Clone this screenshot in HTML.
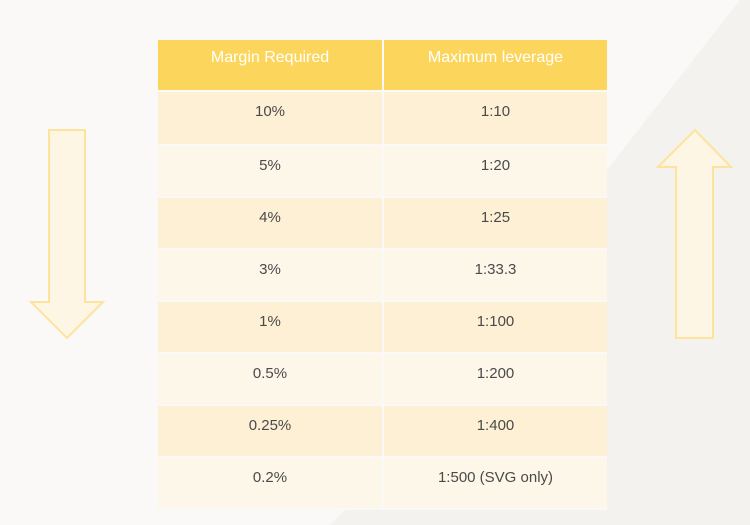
<!DOCTYPE html>
<html><head><style>
body{margin:0;width:750px;height:525px;overflow:hidden;background:#faf9f7;font-family:"Liberation Sans",sans-serif;position:relative}
.row{position:absolute;left:158px;width:449px;height:50px;display:flex;gap:2px}
.row div{height:100%;text-align:center;color:#4a4a4a;font-size:15px;padding-top:11px;box-sizing:border-box}
.c1{width:224px}.c2{width:223px}
.h div{background:#fcd65c;color:#fff;font-size:16px;padding-top:9px}
.o div{background:#fef0d5}.e div{background:#fdf7ea}
</style></head><body>
<svg width="750" height="525" style="position:absolute;left:0;top:0">
<polygon points="740,0 750,0 750,525 330,525 345,510 607,510 607,170" fill="#f4f2ee"/>
<polygon points="49,130 85,130 85,302 103,302 67,338 31,302 49,302" fill="#fdf6e4" stroke="#fde39c" stroke-width="2"/>
<polygon points="695,130 731,167 713,167 713,338 676,338 676,167 658,167" fill="#fdf6e4" stroke="#fde39c" stroke-width="2"/>
</svg>
<div class="row h" style="top:40px"><div class="c1">Margin Required</div><div class="c2">Maximum leverage</div></div>
<div class="row o" style="top:92px;height:52px"><div class="c1">10%</div><div class="c2">1:10</div></div>
<div class="row e" style="top:146px"><div class="c1">5%</div><div class="c2">1:20</div></div>
<div class="row o" style="top:198px"><div class="c1">4%</div><div class="c2">1:25</div></div>
<div class="row e" style="top:250px"><div class="c1">3%</div><div class="c2">1:33.3</div></div>
<div class="row o" style="top:302px"><div class="c1">1%</div><div class="c2">1:100</div></div>
<div class="row e" style="top:354px"><div class="c1">0.5%</div><div class="c2">1:200</div></div>
<div class="row o" style="top:406px"><div class="c1">0.25%</div><div class="c2">1:400</div></div>
<div class="row e" style="top:458px"><div class="c1">0.2%</div><div class="c2">1:500 (SVG only)</div></div>
</body></html>
